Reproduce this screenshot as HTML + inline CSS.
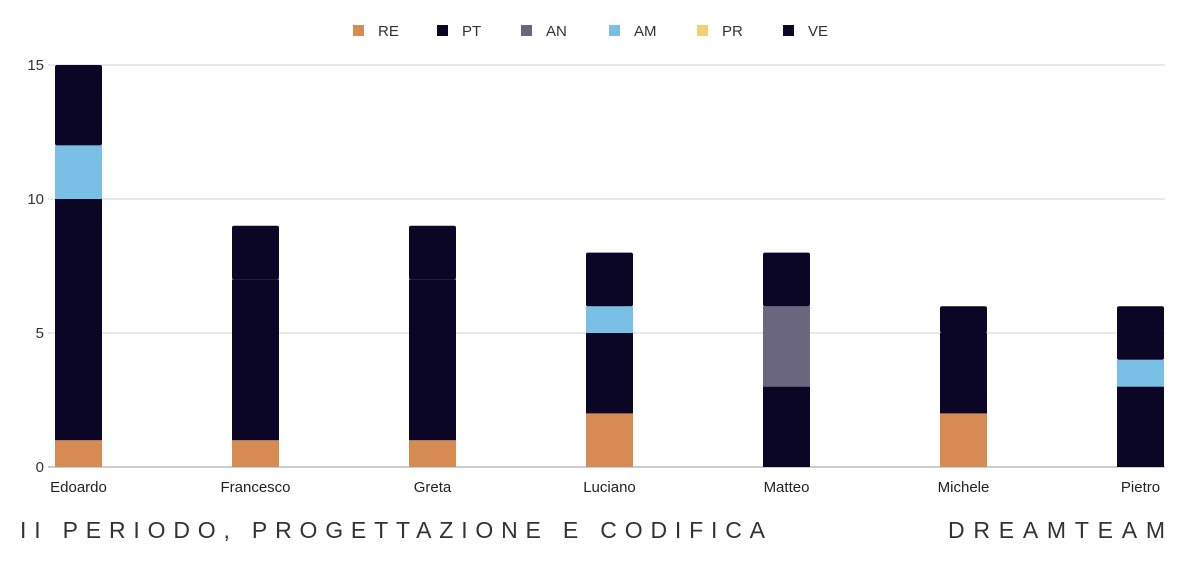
<!DOCTYPE html>
<html><head><meta charset="utf-8"><style>
body{margin:0;background:#fff;}
svg{display:block;font-family:"Liberation Sans",sans-serif;}
</style></head><body>
<svg id="chart" width="1188" height="566"></svg>
<script>
const categories=["Edoardo","Francesco","Greta","Luciano","Matteo","Michele","Pietro"];
const seriesNames=["RE","PT","AN","AM","PR","VE"];
const seriesColors=["#d58b52","#0b0526","#6b6680","#79bfe6","#f2d074","#0b0526"];
const RE=[1,1,1,2,0,2,0];
const PT=[9,6,6,3,3,3,3];
const AN=[0,0,0,0,3,0,0];
const AM=[2,0,0,1,0,0,1];
const PR=[0,0,0,0,0,0,0];
const VE=[3,2,2,2,2,1,2];
const yTicks=[0,5,10,15];
const series=[RE,PT,AN,AM,PR,VE];
const NS="http://www.w3.org/2000/svg";
const svg=document.getElementById('chart');
function mk(t,a){const e=document.createElementNS(NS,t);for(const k in a)e.setAttribute(k,a[k]);return e;}
const y0=467,pxPer=(467-65)/15;
function yS(v){return y0-v*pxPer;}
function xS(i){return 78.5+i*177;}
const bw=47;
// grid
yTicks.forEach(t=>{
  if(t>0){const l=mk('line',{x1:48,x2:1165,y1:yS(t),y2:yS(t),stroke:'#d0d0d0','stroke-width':1});
  
  
  svg.appendChild(l);}
  const tx=mk('text',{x:44,y:yS(t)+5,'text-anchor':'end','font-size':15,fill:'#333'});
  tx.textContent=t;
  
  
  svg.appendChild(tx);
});
const base=mk('line',{x1:48,x2:1165,y1:y0,y2:y0,stroke:'#999','stroke-width':1});


svg.appendChild(base);
// bars
categories.forEach((c,i)=>{
  let acc=0;
  let total=series.reduce((s,a)=>s+a[i],0);
  series.forEach((arr,si)=>{
    const v=arr[i]; if(!v) return;
    const top=yS(acc+v),bot=yS(acc);
    const r=mk('rect',{x:xS(i)-bw/2,y:top,width:bw,height:bot-top,fill:seriesColors[si]});
    if(acc+v===total){r.setAttribute('rx',2);}
    
    
    svg.appendChild(r);
    acc+=v;
  });
  const t=mk('text',{x:xS(i),y:492,'text-anchor':'middle','font-size':15,fill:'#222'});
  t.textContent=c;
  
  
  svg.appendChild(t);
});
// legend
const legX=[353,437,521,609,697,783];
seriesNames.forEach((n,i)=>{
  const g=mk('g',{});
  
  
  g.appendChild(mk('rect',{x:legX[i],y:25,width:11,height:11,fill:seriesColors[i]}));
  const t=mk('text',{x:legX[i]+25,y:36,'font-size':15,fill:'#333'});
  t.textContent=n;g.appendChild(t);svg.appendChild(g);
});
// footer
const f1=mk('text',{x:20,y:538,'font-size':23,fill:'#333',textLength:745,lengthAdjust:'spacing'});
f1.textContent="II PERIODO, PROGETTAZIONE E CODIFICA";


svg.appendChild(f1);
const f2=mk('text',{x:948,y:538,'font-size':23,fill:'#333',textLength:217,lengthAdjust:'spacing'});
f2.textContent="DREAMTEAM";


svg.appendChild(f2);
</script>
</body></html>
